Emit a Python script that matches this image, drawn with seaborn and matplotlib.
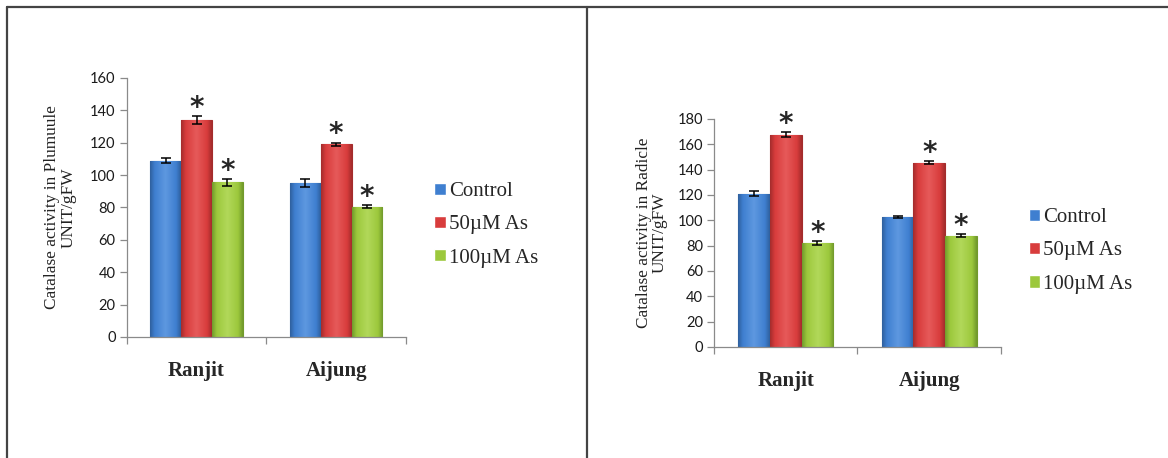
import numpy as np
import pandas as pd
import matplotlib
matplotlib.use('Agg')
import matplotlib.pyplot as plt
import seaborn as sns
from matplotlib.lines import Line2D
from matplotlib.colors import LinearSegmentedColormap

# Dados
cultivars = ['Ranjit', 'Aijung']
treatments = ['Control', '50µM As', '100µM As']
significant = [False, True, True]

plumule_ranjit = [109, 134, 95.5]
plumule_aijung = [95, 119, 80.5]
plumule_ranjit_se = [1.5, 2.5, 2.0]
plumule_aijung_se = [2.5, 1.0, 1.0]

radicle_ranjit = [121, 167.5, 82]
radicle_aijung = [102.5, 145.5, 88]
radicle_ranjit_se = [2.0, 2.0, 1.5]
radicle_aijung_se = [1.0, 1.0, 1.0]

bar_colors = ['#3f7fd0', '#d83c3c', '#9cc83c']
edge_colors = ['#2f609e', '#a42c2c', '#729a2c']
light_colors = ['#5e98e0', '#e65a5a', '#b2d85a']

sns.set_style('white')
plt.rcParams['font.family'] = ['Liberation Serif', 'DejaVu Serif']


def make_df(ranjit, aijung):
    rows = []
    for c, vals in zip(cultivars, [ranjit, aijung]):
        for t, v in zip(treatments, vals):
            rows.append({'Cultivar': c, 'Treatment': t, 'Activity': v})
    return pd.DataFrame(rows)


def draw_panel(ax, df, se_ranjit, se_aijung, ylabel, ymax, label_x, legend_pos, fig):
    sns.barplot(data=df, x='Cultivar', y='Activity', hue='Treatment',
                order=cultivars, hue_order=treatments, palette=bar_colors,
                saturation=1, width=0.66, errorbar=None, ax=ax)
    ses = [[se_ranjit[i], se_aijung[i]] for i in range(len(treatments))]
    bar_containers = list(ax.containers)
    for i, cont in enumerate(bar_containers):
        cmap = LinearSegmentedColormap.from_list(
            'g%d' % i, [(0, edge_colors[i]), (0.15, bar_colors[i]),
                        (0.5, light_colors[i]), (0.85, bar_colors[i]),
                        (1, edge_colors[i])])
        xs, ys = [], []
        for bar in cont:
            bar.set_edgecolor(edge_colors[i])
            bar.set_linewidth(0.8)
            x0, w, h = bar.get_x(), bar.get_width(), bar.get_height()
            grad = np.linspace(0, 1, 64).reshape(1, -1)
            im = ax.imshow(grad, extent=[x0, x0 + w, 0, h], aspect='auto',
                           cmap=cmap, zorder=bar.get_zorder() + 0.1,
                           interpolation='bilinear')
            im.set_clip_path(bar)
            xs.append(x0 + w / 2)
            ys.append(h)
        ax.errorbar(xs, ys, yerr=ses[i], fmt='none', ecolor='black',
                    elinewidth=1.1, capsize=3.5, capthick=1.1, zorder=5)
        if significant[i]:
            for x, y, e in zip(xs, ys, ses[i]):
                ax.annotate('*', xy=(x, y + e), xytext=(0, 6),
                            textcoords='offset points', ha='center', va='center',
                            fontsize=20, fontweight='bold',
                            family='DejaVu Sans', zorder=6)

    ax.set_xlim(-0.5, 1.5)
    ax.set_ylim(0, ymax)
    ax.set_yticks(np.arange(0, ymax + 1, 20))
    ax.set_xticks([-0.5, 0.5, 1.5], minor=True)
    for s in ['top', 'right']:
        ax.spines[s].set_visible(False)
    for s in ['left', 'bottom']:
        ax.spines[s].set_color('#8a8a8a')
        ax.spines[s].set_linewidth(0.9)
    ax.tick_params(axis='y', length=5, width=0.9, color='#8a8a8a', left=True,
                   direction='out', pad=3)
    ax.tick_params(axis='x', which='major', length=0, pad=17)
    ax.tick_params(axis='x', which='minor', length=5, width=0.9,
                   color='#8a8a8a', bottom=True, direction='out')
    for lab in ax.get_yticklabels():
        lab.set_family('Lato')
        lab.set_fontsize(10.5)
        lab.set_color('#1a1a1a')
    for lab in ax.get_xticklabels():
        lab.set_fontweight('bold')
        lab.set_fontsize(15)
    ax.set_xlabel('')
    ax.set_ylabel(ylabel, fontsize=12.4, color='#222222', linespacing=1.0)
    ax.yaxis.set_label_coords(label_x, 0.5)

    handles, labels = ax.get_legend_handles_labels()
    ax.legend(handles, labels, loc='center left', bbox_to_anchor=legend_pos,
              bbox_transform=fig.transFigure, frameon=False, fontsize=15,
              handlelength=0.55, handleheight=0.55, handletextpad=0.15,
              labelspacing=0.68, borderpad=0)


fig = plt.figure(figsize=(11.68, 4.58), dpi=100)
ax1 = fig.add_axes([0.1085, 0.2642, 0.2391, 0.5655])
ax2 = fig.add_axes([0.6113, 0.2424, 0.2457, 0.4978])

draw_panel(ax1, make_df(plumule_ranjit, plumule_aijung), plumule_ranjit_se,
           plumule_aijung_se, 'Catalase activity in Plumuule\nUNIT/gFW', 160,
           -0.18, (0.363, 0.509), fig)
draw_panel(ax2, make_df(radicle_ranjit, radicle_aijung), radicle_ranjit_se,
           radicle_aijung_se, 'Catalase activity in Radicle\nUNIT/gFW', 180,
           -0.16, (0.872, 0.452), fig)

# Bordas dos quadros
top = 1 - 7 / 458
for line in [([7 / 1168, 7 / 1168], [top, 0]),
             ([7 / 1168, 1], [top, top]),
             ([587 / 1168, 587 / 1168], [top, 0])]:
    fig.add_artist(Line2D(line[0], line[1], transform=fig.transFigure,
                          color='#444444', lw=1.6))

fig.savefig('out.png', dpi=100)
